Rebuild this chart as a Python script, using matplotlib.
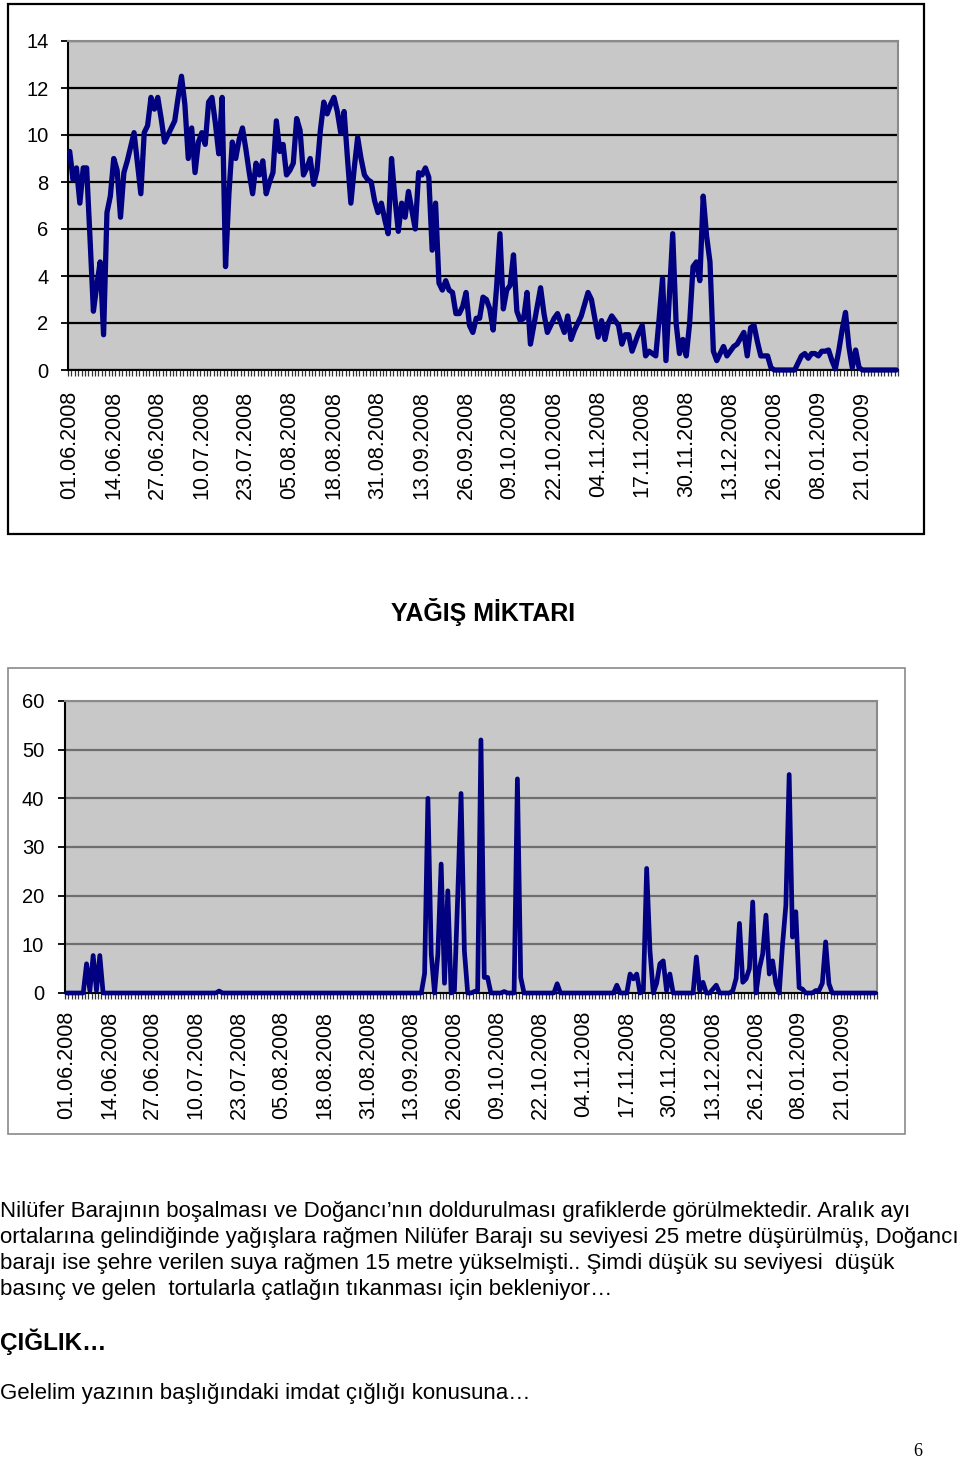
import numpy as np
import matplotlib.pyplot as plt
from matplotlib.patches import Rectangle

plt.rcParams['font.family'] = ['Liberation Sans', 'DejaVu Sans']

# Veriler: 01.06.2008 - 31.01.2009 gunluk
tarih_etiketleri = ['01.06.2008', '14.06.2008', '27.06.2008', '10.07.2008', '23.07.2008',
                    '05.08.2008', '18.08.2008', '31.08.2008', '13.09.2008', '26.09.2008',
                    '09.10.2008', '22.10.2008', '04.11.2008', '17.11.2008', '30.11.2008',
                    '13.12.2008', '26.12.2008', '08.01.2009', '21.01.2009']

# ust grafik (baraj seviyesi)
seviye = [
    9.3, 8.1, 8.6, 7.1, 8.6, 8.6, 5.6, 2.5, 3.6, 4.6,
    1.5, 6.7, 7.4, 9.0, 8.5, 6.5, 8.4, 8.9, 9.5, 10.1,
    8.8, 7.5, 10.1, 10.4, 11.6, 11.1, 11.6, 10.7, 9.7, 10.0,
    10.3, 10.6, 11.6, 12.5, 11.3, 9.0, 10.3, 8.4, 9.7, 10.1,
    9.6, 11.4, 11.6, 10.5, 9.2, 11.6, 4.4, 7.5, 9.7, 9.0,
    9.8, 10.3, 9.4, 8.4, 7.5, 8.8, 8.3, 8.9, 7.5, 8.0,
    8.4, 10.6, 9.3, 9.6, 8.3, 8.5, 8.8, 10.7, 10.2, 8.3,
    8.6, 9.0, 7.9, 8.5, 10.2, 11.4, 10.9, 11.3, 11.6, 11.0,
    10.1, 11.0, 9.0, 7.1, 8.6, 9.9, 9.0, 8.3, 8.1, 8.0,
    7.2, 6.7, 7.1, 6.4, 5.8, 9.0, 7.3, 5.9, 7.1, 6.5,
    7.6, 6.8, 6.0, 8.4, 8.3, 8.6, 8.2, 5.1, 7.1, 3.7,
    3.4, 3.8, 3.4, 3.3, 2.4, 2.4, 2.7, 3.3, 1.9, 1.6,
    2.2, 2.2, 3.1, 3.0, 2.6, 1.7, 3.5, 5.8, 2.6, 3.4,
    3.6, 4.9, 2.5, 2.1, 2.2, 3.3, 1.1, 1.9, 2.7, 3.5,
    2.4, 1.6, 1.9, 2.2, 2.4, 2.0, 1.6, 2.3, 1.3, 1.7,
    2.0, 2.3, 2.8, 3.3, 3.0, 2.2, 1.4, 2.1, 1.3, 2.0,
    2.3, 2.1, 1.9, 1.1, 1.5, 1.5, 0.8, 1.2, 1.6, 1.9,
    0.6, 0.8, 0.7, 0.6, 2.2, 3.9, 0.4, 3.1, 5.8, 2.0,
    0.7, 1.3, 0.6, 2.0, 4.4, 4.6, 3.8, 7.4, 5.7, 4.6,
    0.8, 0.4, 0.7, 1.0, 0.6, 0.8, 1.0, 1.1, 1.35, 1.6,
    0.6, 1.8, 1.9, 1.2, 0.6, 0.6, 0.6, 0.1, 0.0, 0.0,
    0.0, 0.0, 0.0, 0.0, 0.0, 0.3, 0.6, 0.7, 0.5, 0.7,
    0.7, 0.6, 0.8, 0.8, 0.85, 0.4, 0.05, 0.8, 1.7, 2.45,
    1.0, 0.1, 0.85, 0.1, 0.0, 0.0, 0.0, 0.0, 0.0, 0.0,
    0.0, 0.0, 0.0, 0.0, 0.0,
]

# alt grafik (yagis miktari)
yagis = [
    0, 0, 0, 0, 0, 0, 6.0, 0.5, 7.7, 0.5,
    7.7, 0, 0, 0, 0, 0, 0, 0, 0, 0,
    0, 0, 0, 0, 0, 0, 0, 0, 0, 0,
    0, 0, 0, 0, 0, 0, 0, 0, 0, 0,
    0, 0, 0, 0, 0, 0, 0.4, 0, 0, 0,
    0, 0, 0, 0, 0, 0, 0, 0, 0, 0,
    0, 0, 0, 0, 0, 0, 0, 0, 0, 0,
    0, 0, 0, 0, 0, 0, 0, 0, 0, 0,
    0, 0, 0, 0, 0, 0, 0, 0, 0, 0,
    0, 0, 0, 0, 0, 0, 0, 0, 0, 0,
    0, 0, 0, 0, 0, 0, 0, 0, 4.0, 40.0,
    8.0, 0, 8.0, 26.5, 2.0, 21.0, 0, 0.5, 20.0, 41.0,
    8.7, 0, 0, 0.3, 0.5, 52.0, 3.2, 3.2, 0, 0,
    0, 0, 0.3, 0, 0, 0, 44.0, 3.2, 0, 0,
    0, 0, 0, 0, 0, 0, 0, 0, 1.9, 0,
    0, 0, 0, 0, 0, 0, 0, 0, 0, 0,
    0, 0, 0, 0, 0, 0, 1.6, 0, 0, 0,
    3.9, 2.9, 3.9, 0, 0.5, 25.6, 8.7, 0, 2.0, 6.0,
    6.6, 0.5, 3.9, 0, 0, 0, 0, 0, 0, 0,
    7.4, 0.5, 2.2, 0, 0, 0.8, 1.6, 0, 0, 0,
    0, 0.5, 3.0, 14.3, 2.2, 2.9, 5.0, 18.7, 0, 5.0,
    8.0, 16.0, 3.9, 6.6, 1.9, 0, 10.0, 18.0, 44.9, 11.5,
    16.7, 1.1, 0.8, 0, 0, 0, 0.5, 0.5, 2.0, 10.5,
    1.9, 0, 0, 0, 0, 0, 0, 0, 0, 0,
    0, 0, 0, 0, 0,
]

W, H = 960, 1460
fig = plt.figure(figsize=(W / 100, H / 100), dpi=100)


def eksen(l, t, r, b):
    return fig.add_axes([l / W, 1 - b / H, (r - l) / W, (b - t) / H])


def grafik(ax, veri, ymax, ystep, grid_renk, lw, xpad, ypad):
    n = len(veri)
    gun = np.arange(n)
    ax.set_facecolor('#c8c8c8')
    ax.plot(gun, veri, color='#000080', lw=lw, solid_joinstyle='round',
            solid_capstyle='round', clip_on=False, zorder=5)
    ax.set_xlim(-0.5, n - 0.5)
    ax.set_ylim(0, ymax)
    ax.set_yticks(np.arange(0, ymax + 1, ystep))
    ax.yaxis.grid(True, color=grid_renk, lw=1.6)
    ax.set_axisbelow(True)
    ax.set_xticks(np.arange(0, 13 * len(tarih_etiketleri), 13))
    ax.set_xticklabels(tarih_etiketleri, rotation=90, fontsize=15.5, va='top')
    ax.set_xticks(np.arange(-0.5, n, 1), minor=True)
    ax.tick_params(axis='x', which='major', length=0, pad=xpad)
    ax.tick_params(axis='x', which='minor', length=4, width=0.9, color='#333333')
    ax.tick_params(axis='y', length=5, width=1.3, labelsize=14.5, pad=ypad)
    for s in ['left', 'bottom']:
        ax.spines[s].set_color('black')
        ax.spines[s].set_linewidth(1.5)
    for s in ['top', 'right']:
        ax.spines[s].set_color('#8a8a8a')
        ax.spines[s].set_linewidth(1.5)


# ust grafik
fig.patches.append(Rectangle((8 / W, 1 - 534 / H), 916 / W, 530 / H, transform=fig.transFigure,
                             fill=False, ec='black', lw=1.6))
ax1 = eksen(68, 41, 898, 370)
grafik(ax1, seviye, 14, 2, 'black', 3.8, 15, 9)

# alt grafik
fig.text(483 / W, 1 - 612 / H, 'YAĞIŞ MİKTARI', ha='center', va='center',
         fontsize=18, fontweight='bold')
fig.patches.append(Rectangle((8 / W, 1 - 1134 / H), 897 / W, 466 / H, transform=fig.transFigure,
                             fill=False, ec='#8a8a8a', lw=1.2))
ax2 = eksen(65, 701, 877, 993)
grafik(ax2, yagis, 60, 10, '#6e6e6e', 3.4, 13, 10)

# metin
satirlar = [
    'Nilüfer Barajının boşalması ve Doğancı’nın doldurulması grafiklerde görülmektedir. Aralık ayı',
    'ortalarına gelindiğinde yağışlara rağmen Nilüfer Barajı su seviyesi 25 metre düşürülmüş, Doğancı',
    'barajı ise şehre verilen suya rağmen 15 metre yükselmişti.. Şimdi düşük su seviyesi  düşük',
    'basınç ve gelen  tortularla çatlağın tıkanması için bekleniyor…',
]
for i, s in enumerate(satirlar):
    fig.text(0, 1 - (1211 + 26 * i) / H, s, ha='left', va='center', fontsize=16)

fig.text(0, 1 - 1342 / H, 'ÇIĞLIK…', ha='left', va='center', fontsize=17.5, fontweight='bold')
fig.text(0, 1 - 1394 / H, 'Gelelim yazının başlığındaki imdat çığlığı konusuna…',
         ha='left', va='center', fontsize=16)
fig.text(918 / W, 1 - 1452 / H, '6', ha='center', va='center', fontsize=13,
         family=['Liberation Serif', 'DejaVu Serif'])

fig.savefig('out.png', dpi=100)
